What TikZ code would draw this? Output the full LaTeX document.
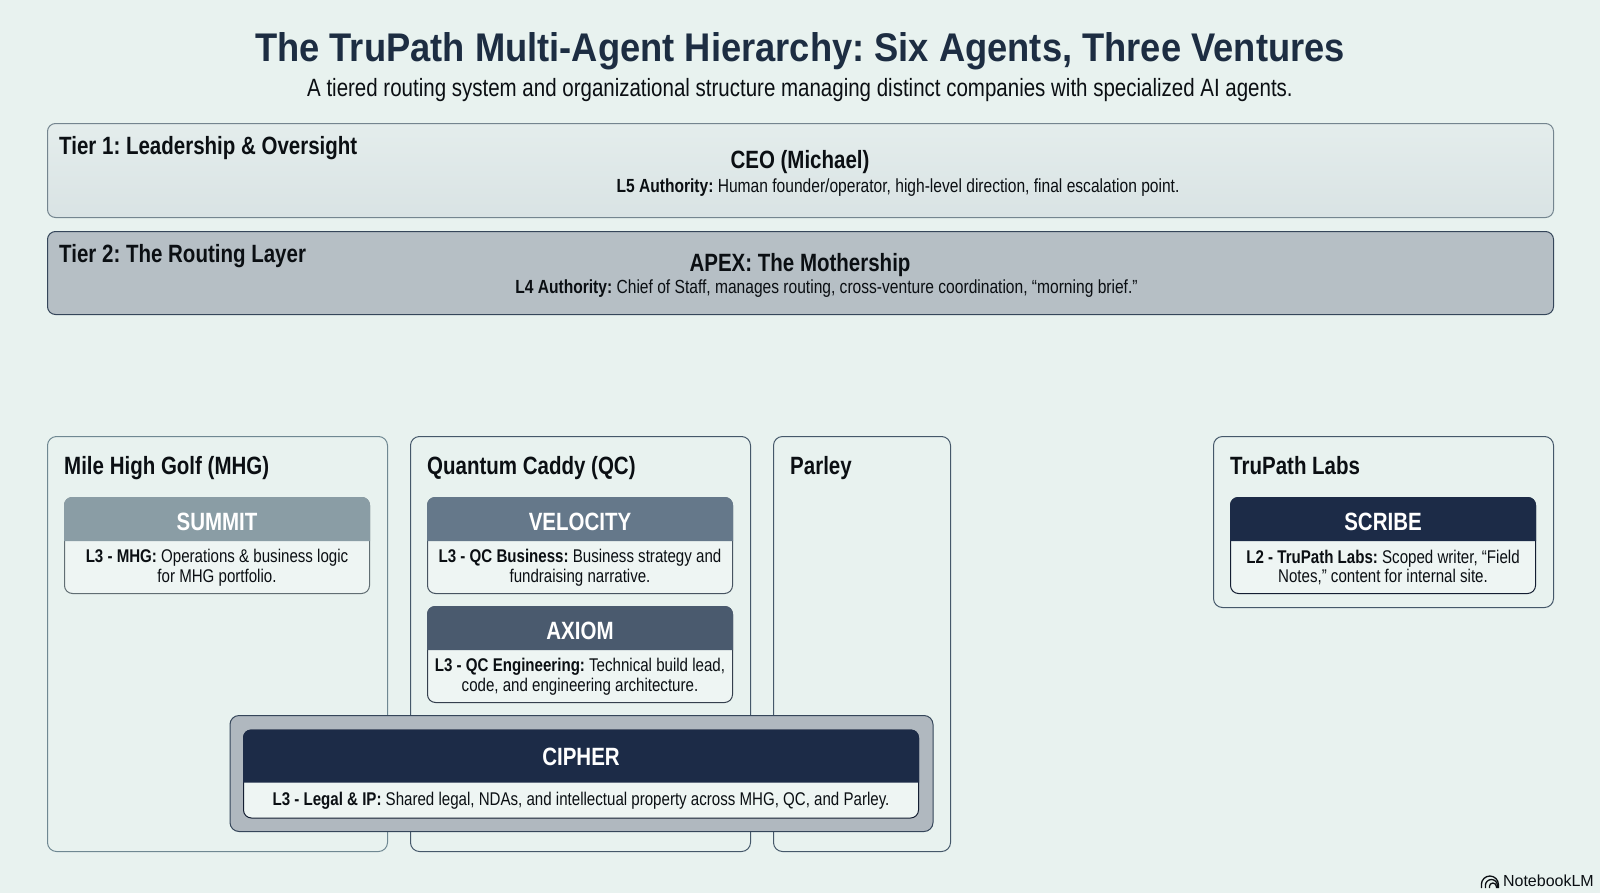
\documentclass[tikz,border=0pt]{standalone}
\usepackage{fontspec}
\setmainfont{Liberation Sans}[FakeStretch=0.82]
\newfontfamily\titlefont{Liberation Sans}[FakeStretch=0.908]
\newfontfamily\markfont{Liberation Sans}
\usetikzlibrary{calc}
\frenchspacing
\definecolor{bgc}{HTML}{E8F2EF}
\definecolor{navy}{HTML}{1C2B47}
\definecolor{titlec}{HTML}{1D2D42}
\definecolor{inkc}{HTML}{0B0F13}
\definecolor{bodyc}{HTML}{EEF5F3}
\definecolor{tonea}{HTML}{E4EDEC}
\definecolor{toneb}{HTML}{D9E3E4}
\definecolor{tier1edge}{HTML}{74858F}
\definecolor{tier2fill}{HTML}{B6BFC5}
\definecolor{tier2edge}{HTML}{35465A}
\definecolor{mhgc}{HTML}{6F8892}
\definecolor{qcc}{HTML}{45586A}
\definecolor{summitc}{HTML}{8A9DA5}
\definecolor{velocityc}{HTML}{65788A}
\definecolor{axiomc}{HTML}{4A5A6E}
\definecolor{cipherfill}{HTML}{B0B8BF}
\tikzset{
  x=1bp,y=-1bp,
  txt/.style={inner sep=0pt,text=inkc,font=\fontsize{18.4bp}{19.5bp}\selectfont,align=center},
  tiertxt/.style={inner sep=0pt,text=inkc,font=\fontsize{19bp}{22bp}\selectfont,anchor=base},
  headtxt/.style={inner sep=0pt,text=inkc,font=\fontsize{25bp}{30bp}\selectfont\bfseries,anchor=base west},
  tierbox/.style={draw=#1,line width=1bp,rounded corners=8bp,inner sep=0pt,anchor=north west},
  venue/.style={draw=#1,line width=1bp,rounded corners=9bp,inner sep=0pt,anchor=north west},
  cardframe/.style={fill=bodyc,draw=#1,line width=1bp,rounded corners=8bp,inner sep=0pt,anchor=north west},
  logoarc/.style={draw=inkc,line width=1.3bp},
}
\newcommand{\agentcard}[9]{%
  \node[cardframe=#7!70!black,minimum width=#4 bp,minimum height=#5 bp] (#1) at (#2,#3) {};
  \fill[#7,rounded corners=8bp] (#1.west |- #1.north) -- (#1.north east) [sharp corners]
     -- ($(#1.north east)+(0,#6)$) -- ($(#1.north west)+(0,#6)$) [rounded corners=8bp] -- cycle;
  \node[inner sep=0pt,anchor=base,text=white,font=\fontsize{25bp}{30bp}\selectfont\bfseries] (#1title)
     at ($(#1.north)+(0,20+#6*0.3)$) {#8};
  \node[txt] (#1body) at ($(#1.south)!0.5!($(#1.north)+(0,#6)$)$) {#9};
}
\begin{document}
\begin{tikzpicture}
\useasboundingbox (0,0) rectangle (1600,893);
\fill[bgc] (0,0) rectangle (1600,893);

\node[inner sep=0pt,anchor=base,text=titlec,font=\titlefont\fontsize{40bp}{44bp}\selectfont\bfseries] (title) at (800,61) {The TruPath Multi-Agent Hierarchy: Six Agents, Three Ventures};
\node[inner sep=0pt,anchor=base,text=inkc,font=\fontsize{25bp}{30bp}\selectfont] (subtitle) at (800,96) {A tiered routing system and organizational structure managing distinct companies with specialized AI agents.};

\node[tierbox=tier1edge,top color=tonea,bottom color=toneb,minimum width=1506bp,minimum height=94bp] (tier1) at (47,123) {};
\node[headtxt] (tier1h) at (59,154) {Tier 1: Leadership \& Oversight};
\node[headtxt,anchor=base] (ceo) at (800,168) {CEO (Michael)};
\node[tiertxt] (ceod) at (898,192) {\textbf{L5 Authority:} Human founder/operator, high-level direction, final escalation point.};

\node[tierbox=tier2edge,fill=tier2fill,minimum width=1506bp,minimum height=83bp] (tier2) at (47,231) {};
\node[headtxt] (tier2h) at (59,262) {Tier 2: The Routing Layer};
\node[headtxt,anchor=base] (apex) at (800,271) {APEX: The Mothership};
\node[tiertxt] (apexd) at (826.5,293) {\textbf{L4 Authority:} Chief of Staff, manages routing, cross-venture coordination, “morning brief.”};

\node[venue=mhgc,minimum width=340bp,minimum height=415bp] (mhg) at (47,436) {};
\node[venue=qcc,minimum width=340bp,minimum height=415bp] (qc) at (410,436) {};
\node[venue=qcc,minimum width=177bp,minimum height=415bp] (parley) at (773,436) {};
\node[venue=qcc,minimum width=340bp,minimum height=171bp] (labs) at (1213,436) {};
\node[headtxt] (mhgh) at (64,474) {Mile High Golf (MHG)};
\node[headtxt] (qch) at (427,474) {Quantum Caddy (QC)};
\node[headtxt] (parleyh) at (790,474) {Parley};
\node[headtxt] (labsh) at (1230,474) {TruPath Labs};

\agentcard{summit}{64}{497}{305}{96}{44}{summitc}{SUMMIT}{\textbf{L3 - MHG:} Operations \& business logic\\for MHG portfolio.}
\agentcard{velocity}{427}{497}{305}{96}{44}{velocityc}{VELOCITY}{\textbf{L3 - QC Business:} Business strategy and\\fundraising narrative.}
\agentcard{axiom}{427}{606}{305}{96}{44}{axiomc}{AXIOM}{\textbf{L3 - QC Engineering:} Technical build lead,\\code, and engineering architecture.}
\agentcard{scribe}{1230}{497}{305}{96}{44}{navy}{SCRIBE}{\textbf{L2 - TruPath Labs:} Scoped writer, “Field\\Notes,” content for internal site.}

\node[cardframe=tier2edge,fill=cipherfill,minimum width=703bp,minimum height=116bp,rounded corners=9bp] (cipherouter) at (229.5,715) {};
\agentcard{cipher}{243}{729.5}{675}{88}{53}{navy}{CIPHER}{\textbf{L3 - Legal \& IP:} Shared legal, NDAs, and intellectual property across MHG, QC, and Parley.}

\node[inner sep=0pt,anchor=base east,text=inkc,font=\markfont\fontsize{16bp}{20bp}\selectfont] (nlm) at (1594,886) {NotebookLM};
\coordinate (logo) at ($(nlm.base west)+(-21.5,2)$);
\draw[logoarc] (logo) -- ++(0,-3.5) arc[start angle=180,end angle=360,radius=8.5] -- ++(0,3.5);
\draw[logoarc] ($(logo)+(4,0)$) -- ++(0,-2.5) arc[start angle=180,end angle=360,radius=6] -- ++(0,2.5);
\draw[logoarc] ($(logo)+(8,0)$) -- ++(0,-1.5) arc[start angle=180,end angle=360,radius=3.5] -- ++(0,1.5);
\end{tikzpicture}
\end{document}
